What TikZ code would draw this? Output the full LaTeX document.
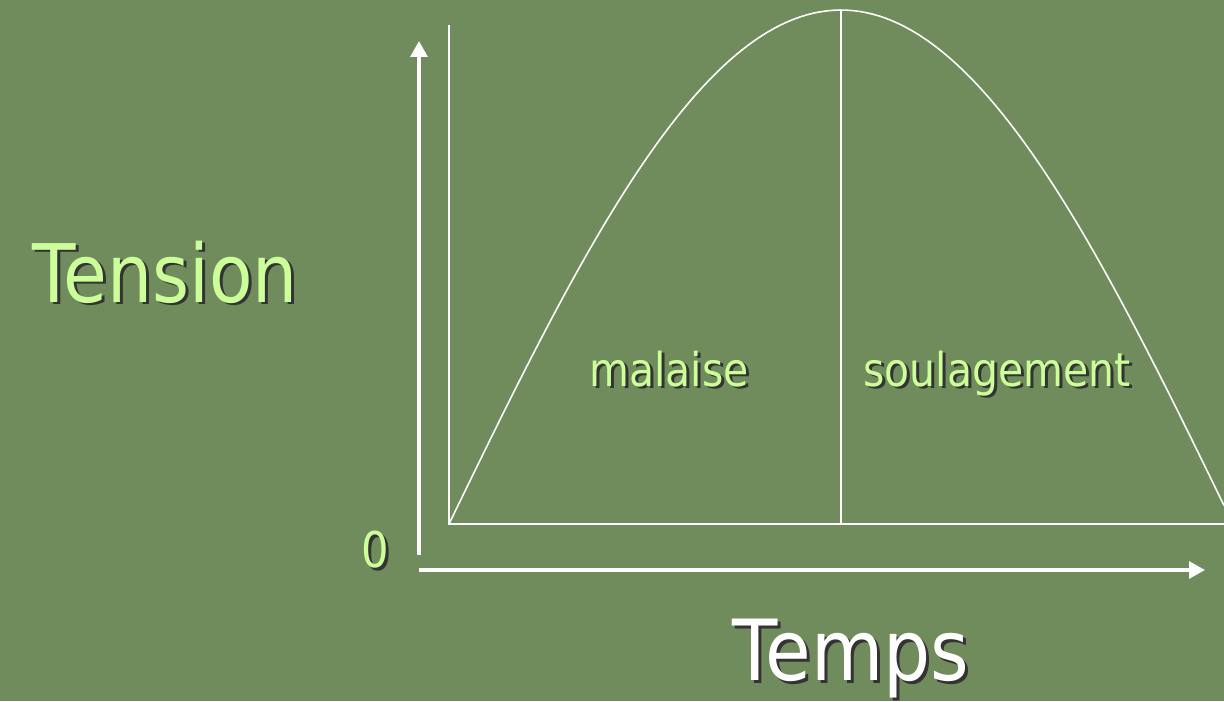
\documentclass[tikz,border=0pt]{standalone}
\usepackage{fontspec}
\setmainfont{DejaVu Sans}[FakeStretch=0.88]
\usepackage{xcolor}
\usepackage{tikz}
\usetikzlibrary{arrows.meta}
\definecolor{slidegreen}{RGB}{112,140,92}
\definecolor{lightlime}{HTML}{CCFF99}
\newcommand{\shtext}[1]{\rlap{\kern1.7pt\raisebox{-1.7pt}{\color{black!80}#1}}#1}

\begin{document}
\begin{tikzpicture}[
  x=0.02cm, y=-0.02cm,
  >={Triangle[length=9pt,width=9.5pt]},
  axis/.style={draw=white, line width=1.9pt},
  frame/.style={draw=white, line width=0.9pt},
  lbl/.style={anchor=base, inner sep=0pt, text=#1},
]
  % --- background ---------------------------------------------------
  \fill[slidegreen] (0,0) rectangle (1224,701);
  \useasboundingbox (0,0) rectangle (1224,701);

  % --- axes ---------------------------------------------------------
  \coordinate (ybot) at (419,555);
  \coordinate (ytop) at (419,41);
  \coordinate (xlft) at (419,570);
  \coordinate (xrgt) at (1205,570);
  \draw[axis, ->] (ybot) -- (ytop);
  \draw[axis, ->] (xlft) -- (xrgt);

  % --- inner frame and divider --------------------------------------
  \coordinate (ftop) at (449,25);
  \coordinate (fcor) at (449,524);
  \coordinate (fend) at (1224,524);
  \coordinate (peak) at (841,10);
  \coordinate (pbot) at (841,524);
  \draw[frame] (ftop) -- (fcor) -- (fend);
  \draw[frame] (peak) -- (pbot);

  % --- tension curve ------------------------------------------------
  \draw[frame] plot[domain=449:1224, samples=120]
    (\x, {524-514*sin((\x-449)*0.229592)});

  % --- labels -------------------------------------------------------
  \node[lbl=lightlime, font=\fontsize{46}{50}\selectfont] (tension) at (165,302) {\shtext{Tension}};
  \node[lbl=white, font=\fontsize{48}{52}\selectfont] (temps) at (851,680) {\shtext{Temps}};
  \node[lbl=lightlime, font=\fontsize{28}{32}\selectfont] (zero) at (375,567) {\shtext{0}};
  \node[lbl=lightlime, font=\fontsize{26.5}{30}\selectfont] (malaise) at (669,386) {\shtext{malaise}};
  \node[lbl=lightlime, font=\fontsize{26.5}{30}\selectfont] (soulag) at (997,386) {\shtext{soulagement}};
\end{tikzpicture}
\end{document}
